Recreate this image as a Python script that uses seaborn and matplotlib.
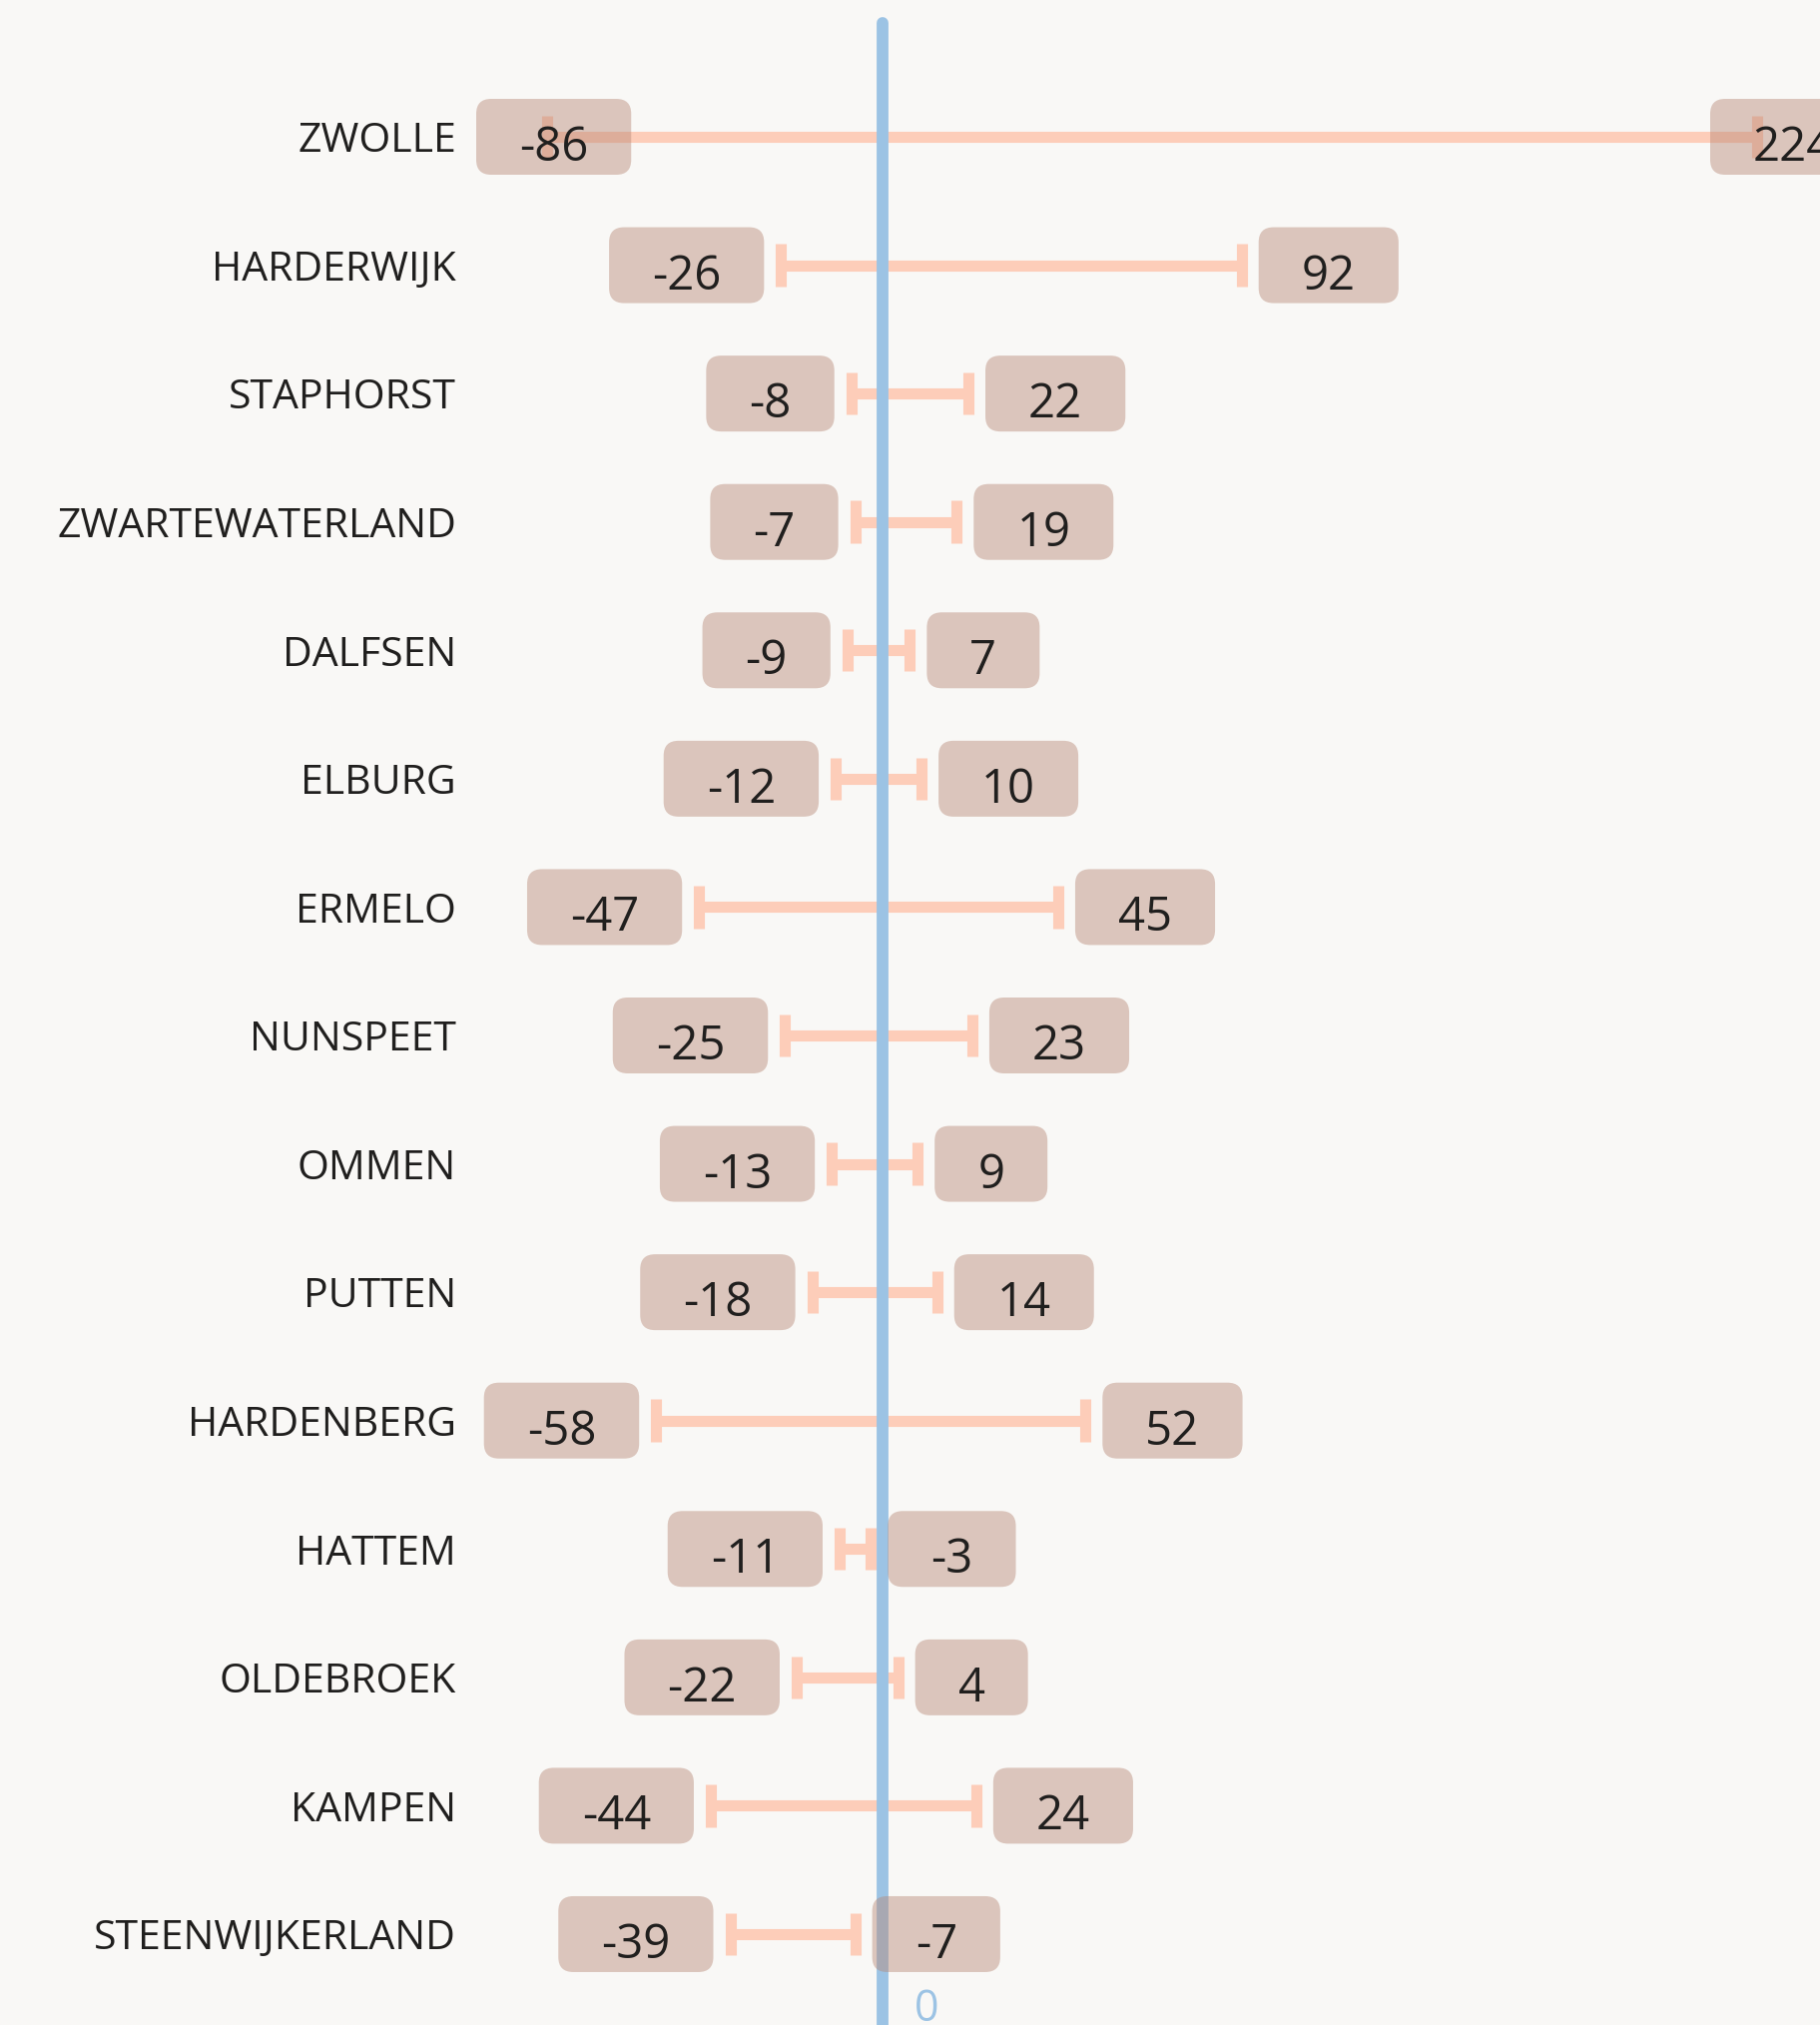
import matplotlib
matplotlib.use("Agg")
import matplotlib.pyplot as plt
import matplotlib.transforms as mtransforms
from matplotlib.patches import FancyBboxPatch
import pandas as pd
import seaborn as sns

# Range per municipality: lower and upper bound
municipalities = [
    "ZWOLLE", "HARDERWIJK", "STAPHORST", "ZWARTEWATERLAND", "DALFSEN",
    "ELBURG", "ERMELO", "NUNSPEET", "OMMEN", "PUTTEN", "HARDENBERG",
    "HATTEM", "OLDEBROEK", "KAMPEN", "STEENWIJKERLAND",
]
lower = [-86, -26, -8, -7, -9, -12, -47, -25, -13, -18, -58, -11, -22, -44, -39]
upper = [224, 92, 22, 19, 7, 10, 45, 23, 9, 14, 52, -3, 4, 24, -7]

BG = "#f9f8f6"
BAR = "#fdcdb9"
ZERO = "#9cc3e4"
BOX = "#b78876"
TEXT = "#201f1e"

sns.set_theme(style="white")
plt.rcParams["font.family"] = ["Open Sans", "DejaVu Sans"]

W, H, DPI = 1823, 2028, 100
fig = plt.figure(figsize=(W / DPI, H / DPI), dpi=DPI, facecolor=BG)
LEFT_PX = 480
ax = fig.add_axes([LEFT_PX / W, 0, 1 - LEFT_PX / W, 1])
ax.set_facecolor(BG)

df = pd.DataFrame({
    "gemeente": municipalities * 2,
    "waarde": lower + upper,
})

# min-to-max interval drawn as a capped error bar per row
sns.pointplot(
    data=df, x="waarde", y="gemeente", order=municipalities, orient="h",
    estimator="mean", errorbar=("pi", 100), capsize=0.33,
    linestyle="none", markersize=0,
    err_kws={"color": BAR, "linewidth": 8, "solid_capstyle": "butt"},
    ax=ax,
)

# scale: zero at 884 px, 3.91 px per unit; rows 128.57 px apart
PX_PER_UNIT = 3.91
ZERO_PX = 884
ROW_PX = 128.57
FIRST_ROW_PX = 137
n = len(municipalities)
ax.set_xlim((LEFT_PX - ZERO_PX) / PX_PER_UNIT, (W - ZERO_PX) / PX_PER_UNIT)
ax.set_ylim(n - 1 + (H - FIRST_ROW_PX - (n - 1) * ROW_PX) / ROW_PX,
            -FIRST_ROW_PX / ROW_PX)

for s in ax.spines.values():
    s.set_visible(False)
ax.set_xlabel("")
ax.set_ylabel("")
ax.set_xticks([])
ax.tick_params(axis="y", length=0, pad=16.5, labelsize=29.5, labelcolor=TEXT)

# zero reference line
ax.axvline(0, ymin=0, ymax=1 - 23 / H, color=ZERO, linewidth=8.5,
           solid_capstyle="round", zorder=4)

ident = mtransforms.IdentityTransform()
renderer = fig.canvas.get_renderer()

GAP = 17
BOX_H = 76
PAD_W = 86
MIN_LEFT = 477
MAX_LEFT = 1713


def value_label(value, row, side):
    xp, yp = ax.transData.transform((value, row))
    t = ax.text(0, 0, f"{value}", transform=ident, fontsize=34,
                color=TEXT, ha="center", va="baseline", zorder=7,
                clip_on=False)
    w = t.get_window_extent(renderer).width + PAD_W
    if side == "left":
        left = max(xp - GAP - w, MIN_LEFT)
    else:
        left = min(xp + GAP, MAX_LEFT)
    box = FancyBboxPatch(
        (left, yp - BOX_H / 2), w, BOX_H,
        boxstyle="round,pad=0,rounding_size=15", transform=ident,
        facecolor=BOX, edgecolor="none", alpha=0.45, zorder=6, clip_on=False,
    )
    ax.add_artist(box)
    t.set_position((left + w / 2, yp - 24))


for i, (lo, hi) in enumerate(zip(lower, upper)):
    value_label(lo, i, "left")
    value_label(hi, i, "right")

# axis value at the zero line
x0, _ = ax.transData.transform((0, 0))
ax.text(x0 + 44, 4, "0", transform=ident, fontsize=31, color=ZERO,
        ha="center", va="baseline", clip_on=False)

fig.savefig("out.png", dpi=DPI, facecolor=BG)
